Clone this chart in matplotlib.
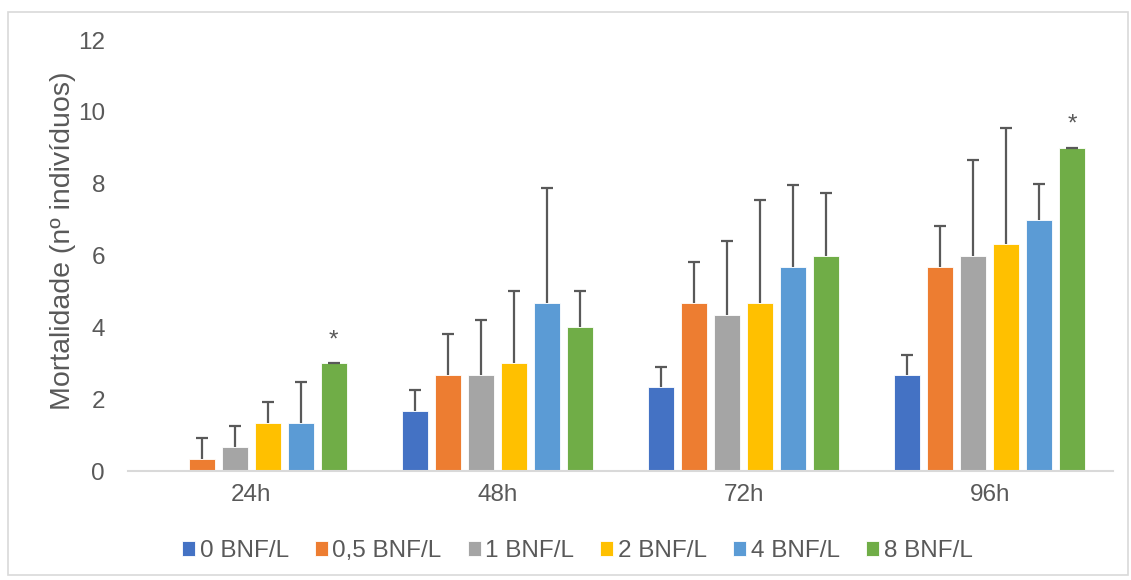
import numpy as np
import matplotlib.pyplot as plt
from matplotlib.patches import Rectangle

plt.rcParams['font.family'] = ['Liberation Sans', 'DejaVu Sans']

tempos = ["24h", "48h", "72h", "96h"]
series = ["0 BNF/L", "0,5 BNF/L", "1 BNF/L", "2 BNF/L", "4 BNF/L", "8 BNF/L"]
cores = ["#4472C4", "#ED7D31", "#A5A5A5", "#FFC000", "#5B9BD5", "#70AD47"]

# media por concentracao (linhas) e tempo (colunas)
medias = [
    [0.0, 1.667, 2.333, 2.667],
    [0.333, 2.667, 4.667, 5.667],
    [0.667, 2.667, 4.333, 6.0],
    [1.333, 3.0, 4.667, 6.333],
    [1.333, 4.667, 5.667, 7.0],
    [3.0, 4.0, 6.0, 9.0],
]
desvios = [
    [0.0, 0.577, 0.577, 0.577],
    [0.577, 1.155, 1.155, 1.155],
    [0.577, 1.528, 2.082, 2.646],
    [0.577, 2.0, 2.887, 3.215],
    [1.155, 3.215, 2.309, 1.0],
    [0.0, 1.0, 1.732, 0.0],
]
# asteriscos (serie, tempo)
signif = [(5, 0), (5, 3)]

cinza = "#595959"

fig = plt.figure(figsize=(11.31, 5.80), dpi=100)
ax = fig.add_axes([0.1132, 0.1879, 0.8709, 0.7431])

x = np.arange(len(tempos))
passo = 0.134
largura = 0.106
for i, nome in enumerate(series):
    pos = x + (i - 2.5) * passo
    m = np.array(medias[i])
    err = np.array(desvios[i])
    ax.bar(pos, m, largura, color=cores[i], edgecolor="white",
           linewidth=0.6, label=nome, zorder=2)
    ok = m > 0
    _, caps, _ = ax.errorbar(pos[ok], m[ok], yerr=[np.zeros(ok.sum()), err[ok]],
                             fmt="none", ecolor=cinza, elinewidth=1.6,
                             capsize=4.5, capthick=1.6, zorder=3)
    caps[0].set_visible(False)  # so a tampa de cima, como no Excel

for i, j in signif:
    xs = x[j] + (i - 2.5) * passo
    ax.text(xs, medias[i][j] + desvios[i][j] + 0.47, "*", ha="center",
            va="baseline", fontsize=17.5, color=cinza)

ax.set_xlim(-0.5, 3.5)
ax.set_ylim(0, 12)
ax.set_yticks(range(0, 13, 2))
ax.set_xticks(x)
ax.set_xticklabels(tempos)
ax.tick_params(axis="both", length=0, labelsize=17.5, colors=cinza)
ax.tick_params(axis="x", pad=9)
ax.tick_params(axis="y", pad=16.5)
for s in ["top", "right", "left"]:
    ax.spines[s].set_visible(False)
ax.spines["bottom"].set_color("#d9d9d9")
ax.spines["bottom"].set_linewidth(1.5)

ax.set_ylabel("Mortalidade (nº indivíduos)", fontsize=20.5, color=cinza, va="center")
ax.yaxis.set_label_coords(-0.066, 0.534)

leg = ax.legend(loc="center", bbox_to_anchor=(0.456, -0.186), ncol=6, frameon=False,
                fontsize=17.5, handlelength=0.53, handleheight=0.55, handletextpad=0.2,
                columnspacing=1.07)
for t in leg.get_texts():
    t.set_color(cinza)

fig.patches.append(Rectangle((8 / 1131, 5 / 580), 1120 / 1131, 563 / 580,
                             transform=fig.transFigure, fill=False,
                             edgecolor="#d9d9d9", linewidth=1.2))

fig.savefig("out.png", dpi=100)
